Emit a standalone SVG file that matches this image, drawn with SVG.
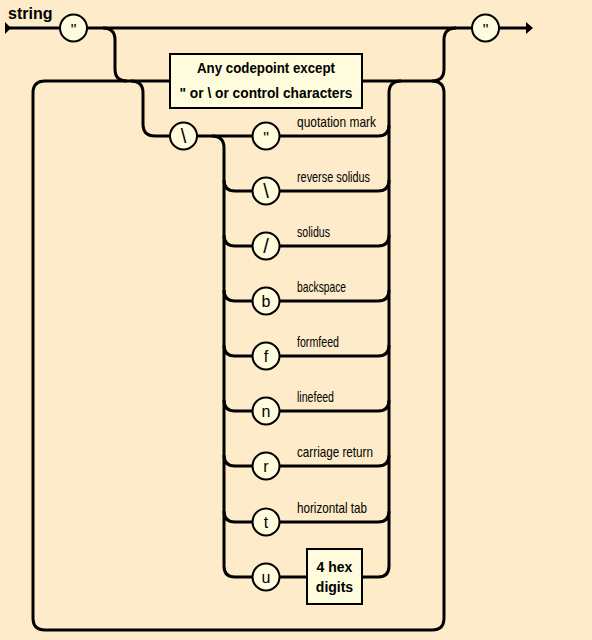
<svg xmlns="http://www.w3.org/2000/svg" width="592" height="640" viewBox="0 0 592 640">
<style>
.bg{fill:#FEEBC9}
.ln{fill:none;stroke:#000;stroke-width:3;stroke-linecap:butt}
.nd{fill:#FFFCDD;stroke:#000;stroke-width:2}
.ct{font-family:"Liberation Sans",Arial,sans-serif;font-size:16px;fill:#000;text-anchor:middle}
.sl{font-size:20px}
.bt{font-family:"Liberation Sans",Arial,sans-serif;font-size:14px;font-weight:bold;fill:#000;text-anchor:middle}
.lb{font-family:"Liberation Sans",Arial,sans-serif;font-size:15px;fill:#000}
.ti{font-family:"Liberation Sans",Arial,sans-serif;font-size:16px;font-weight:bold;fill:#000}
</style>
<rect class="bg" x="0" y="0" width="592" height="640"/>
<text class="ti" x="8" y="19">string</text>
<g id="connectors">
<path class="ln" d="M8 28 H60"/>
<polygon points="5,22 11,28 5,34" fill="#000"/>
<path class="ln" d="M87 28 H472"/>
<path class="ln" d="M499 28 H528"/>
<polygon points="526,22 533,28 526,34" fill="#000"/>
<path class="ln" d="M103 28 Q115 28 115 40 V69 Q115 81 127 81"/>
<path class="ln" d="M45 81 H170"/>
<path class="ln" d="M362 81 H432 Q444 81 444 69 V40 Q444 28 456 28"/>
<path class="ln" d="M432 81 Q444 81 444 93 V618 Q444 630 432 630 H45 Q33 630 33 618 V93 Q33 81 45 81"/>
<path class="ln" d="M131 81 Q143 81 143 93 V124 Q143 136 155 136 H170"/>
<path class="ln" d="M197 136 H252.5"/>
<path class="ln" d="M212 136 Q224 136 224 148 V566 Q224 577 235 577 H252.5"/>
<path class="ln" d="M279.5 136 H378 Q389 136 389 125"/>
<path class="ln" d="M389 125 V93 Q389 81 401 81"/>
<path class="ln" d="M389 125 V566 Q389 577 378 577 H362"/>
<path class="ln" d="M279.5 577 H307"/>
<path class="ln" d="M224 180 Q224 191 235 191 H252.5 M279.5 191 H378 Q389 191 389 180"/>
<path class="ln" d="M224 235 Q224 246 235 246 H252.5 M279.5 246 H378 Q389 246 389 235"/>
<path class="ln" d="M224 290 Q224 301 235 301 H252.5 M279.5 301 H378 Q389 301 389 290"/>
<path class="ln" d="M224 345 Q224 356 235 356 H252.5 M279.5 356 H378 Q389 356 389 345"/>
<path class="ln" d="M224 400 Q224 411 235 411 H252.5 M279.5 411 H378 Q389 411 389 400"/>
<path class="ln" d="M224 455 Q224 466 235 466 H252.5 M279.5 466 H378 Q389 466 389 455"/>
<path class="ln" d="M224 511 Q224 522 235 522 H252.5 M279.5 522 H378 Q389 522 389 511"/>
</g>
<g id="open-quote"><circle class="nd" cx="73.5" cy="28" r="13.5"/><text class="ct" x="73.5" y="36">"</text></g>
<g id="close-quote"><circle class="nd" cx="485.5" cy="28" r="13.5"/><text class="ct" x="485.5" y="36">"</text></g>
<g id="any-codepoint"><rect class="nd" x="170" y="54" width="192" height="54"/>
<text class="bt" x="266" y="73" textLength="138" lengthAdjust="spacingAndGlyphs">Any codepoint except</text>
<text class="bt" x="266" y="98" textLength="173" lengthAdjust="spacingAndGlyphs">" or \ or control characters</text></g>
<g id="backslash"><circle class="nd" cx="183.5" cy="136" r="13.5"/><text class="ct sl" x="183.5" y="143">\</text></g>
<g id="esc-quote"><circle class="nd" cx="266" cy="136" r="13.5"/><text class="ct" x="266" y="144">"</text><text class="lb" x="297" y="127" textLength="79" lengthAdjust="spacingAndGlyphs">quotation mark</text></g>
<g id="esc-rsolidus"><circle class="nd" cx="266" cy="191" r="13.5"/><text class="ct sl" x="266" y="198">\</text><text class="lb" x="297" y="182" textLength="73" lengthAdjust="spacingAndGlyphs">reverse solidus</text></g>
<g id="esc-solidus"><circle class="nd" cx="266" cy="246" r="13.5"/><text class="ct sl" x="266" y="253">/</text><text class="lb" x="297" y="237" textLength="33" lengthAdjust="spacingAndGlyphs">solidus</text></g>
<g id="esc-b"><circle class="nd" cx="266" cy="301" r="13.5"/><text class="ct" x="266" y="307">b</text><text class="lb" x="297" y="292" textLength="49" lengthAdjust="spacingAndGlyphs">backspace</text></g>
<g id="esc-f"><circle class="nd" cx="266" cy="356" r="13.5"/><text class="ct" x="266" y="362">f</text><text class="lb" x="297" y="347" textLength="42" lengthAdjust="spacingAndGlyphs">formfeed</text></g>
<g id="esc-n"><circle class="nd" cx="266" cy="411" r="13.5"/><text class="ct" x="266" y="417">n</text><text class="lb" x="297" y="402" textLength="37" lengthAdjust="spacingAndGlyphs">linefeed</text></g>
<g id="esc-r"><circle class="nd" cx="266" cy="466" r="13.5"/><text class="ct" x="266" y="472">r</text><text class="lb" x="297" y="457" textLength="76" lengthAdjust="spacingAndGlyphs">carriage return</text></g>
<g id="esc-t"><circle class="nd" cx="266" cy="522" r="13.5"/><text class="ct" x="266" y="528">t</text><text class="lb" x="297" y="513" textLength="70" lengthAdjust="spacingAndGlyphs">horizontal tab</text></g>
<g id="esc-u"><circle class="nd" cx="266" cy="577" r="13.5"/><text class="ct" x="266" y="583">u</text></g>
<g id="hex-digits"><rect class="nd" x="307" y="549" width="55" height="55"/>
<text class="bt" x="334.5" y="572" font-size="16">4 hex</text>
<text class="bt" x="334.5" y="592" font-size="16">digits</text></g>
</svg>
